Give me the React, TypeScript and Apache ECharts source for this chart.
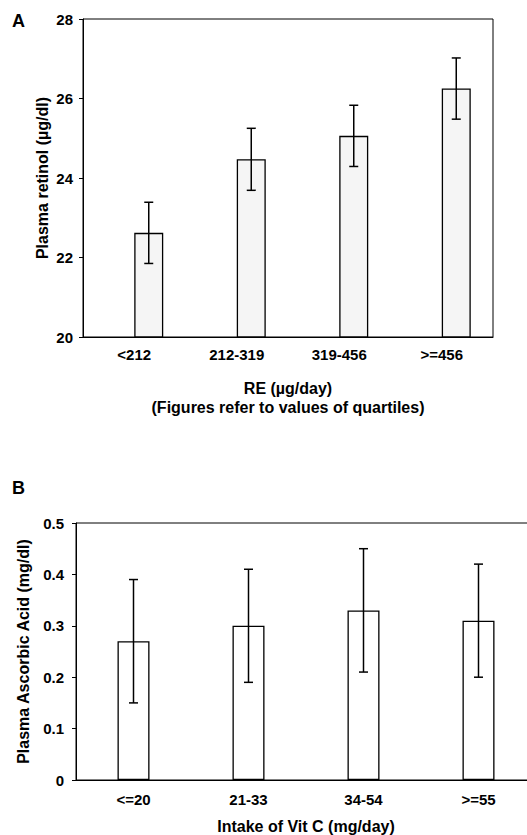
import React, { useEffect, useRef } from "react";
import * as echarts from "echarts";

const catsA = ["<212", "212-319", "319-456", ">=456"];
const meansA = [22.62, 24.47, 25.06, 26.25];
const errA = [0.77, 0.78, 0.77, 0.77];

const catsB = ["<=20", "21-33", "34-54", ">=55"];
const meansB = [0.27, 0.3, 0.33, 0.31];
const errB = [0.12, 0.11, 0.12, 0.11];

const FONT = "Liberation Sans";
const BAR_W_A = 29;
const BAR_W_B = 32;

function errRenderer(offset: number) {
  return (params: any, api: any) => {
    const i = api.value(0);
    const lo = api.coord([i, api.value(1)]);
    const hi = api.coord([i, api.value(2)]);
    const x = lo[0] + offset;
    const cap = 4.5;
    const style = { stroke: "#000", lineWidth: 1.5 };
    return {
      type: "group",
      children: [
        { type: "line", shape: { x1: x, y1: hi[1], x2: x, y2: lo[1] }, style },
        { type: "line", shape: { x1: x - cap, y1: hi[1], x2: x + cap, y2: hi[1] }, style },
        { type: "line", shape: { x1: x - cap, y1: lo[1], x2: x + cap, y2: lo[1] }, style },
      ],
    };
  };
}

const tickText = { color: "#000", fontFamily: FONT, fontWeight: "bold" as const, fontSize: 15 };
const nameText = { color: "#000", fontFamily: FONT, fontWeight: "bold" as const, fontSize: 16 };

export default function App() {
  const ref = useRef<HTMLDivElement>(null);
  useEffect(() => {
    if (!ref.current) return;
    const chart = echarts.init(ref.current, undefined, { renderer: "svg" });
    const lineStyle = { color: "#000", width: 1 };
    chart.setOption({
      animation: false,
      backgroundColor: "#fff",
      graphic: [
        { type: "text", left: 12, top: 12, style: { text: "A", fill: "#000", font: `bold 18px "${FONT}"` } },
        { type: "text", left: 12, top: 479, style: { text: "B", fill: "#000", font: `bold 18px "${FONT}"` } },
      ],
      grid: [
        {
          left: 83, top: 19, width: 410, height: 318,
          outerBoundsMode: "none",
          show: true, borderColor: "#000", borderWidth: 1, backgroundColor: "transparent",
        },
        {
          left: 76, top: 523, width: 460, height: 257,
          outerBoundsMode: "none",
          show: true, borderColor: "#000", borderWidth: 1, backgroundColor: "transparent",
        },
      ],
      xAxis: [
        {
          type: "category",
          gridIndex: 0,
          data: catsA,
          axisLine: { lineStyle },
          axisTick: { length: 5, lineStyle },
          axisLabel: { ...tickText, margin: 10 },
          name: "RE (µg/day)\n(Figures refer to values of quartiles)",
          nameLocation: "middle",
          nameGap: 42,
          nameMoveOverlap: false,
          nameTextStyle: { ...nameText, lineHeight: 19 },
        },
        {
          type: "category",
          gridIndex: 1,
          data: catsB,
          axisLine: { lineStyle },
          axisTick: { length: 5, lineStyle },
          axisLabel: { ...tickText, margin: 12 },
          name: "Intake of Vit C (mg/day)",
          nameLocation: "middle",
          nameGap: 38,
          nameMoveOverlap: false,
          nameTextStyle: { ...nameText },
        },
      ],
      yAxis: [
        {
          type: "value",
          gridIndex: 0,
          min: 20,
          max: 28,
          interval: 2,
          splitLine: { show: false },
          axisLine: { show: true, lineStyle },
          axisTick: { show: true, length: 4, lineStyle },
          axisLabel: { ...tickText, margin: 10 },
          name: "Plasma retinol (µg/dl)",
          nameLocation: "middle",
          nameGap: 33,
          nameMoveOverlap: false,
          nameTextStyle: { ...nameText },
        },
        {
          type: "value",
          gridIndex: 1,
          min: 0,
          max: 0.5,
          interval: 0.1,
          splitLine: { show: false },
          axisLine: { show: true, lineStyle },
          axisTick: { show: true, length: 4, lineStyle },
          axisLabel: {
            ...tickText,
            margin: 12,
            formatter: (v: number) => (v === 0 ? "0" : v.toFixed(1)),
          },
          name: "Plasma Ascorbic Acid (mg/dl)",
          nameLocation: "middle",
          nameGap: 45,
          nameMoveOverlap: false,
          nameTextStyle: { ...nameText },
        },
      ],
      series: [
        {
          type: "bar",
          xAxisIndex: 0,
          yAxisIndex: 0,
          data: catsA.map(() => "-"),
          barWidth: BAR_W_A,
          barGap: "0%",
          silent: true,
        },
        {
          type: "bar",
          xAxisIndex: 0,
          yAxisIndex: 0,
          data: meansA,
          barWidth: BAR_W_A,
          barGap: "0%",
          itemStyle: {
            color: "#f5f5f5",
            borderColor: "#000",
            borderWidth: 1.3,
          },
        },
        {
          type: "custom",
          xAxisIndex: 0,
          yAxisIndex: 0,
          z: 5,
          renderItem: errRenderer(BAR_W_A / 2),
          data: meansA.map((m, i) => [i, m - errA[i], m + errA[i]]),
        },
        {
          type: "bar",
          xAxisIndex: 1,
          yAxisIndex: 1,
          data: meansB,
          barWidth: BAR_W_B,
          itemStyle: { color: "#fff", borderColor: "#000", borderWidth: 1.3 },
        },
        {
          type: "custom",
          xAxisIndex: 1,
          yAxisIndex: 1,
          z: 5,
          renderItem: errRenderer(0),
          data: meansB.map((m, i) => [i, m - errB[i], m + errB[i]]),
        },
      ],
    });
    return () => chart.dispose();
  }, []);
  return (
    <div
      ref={ref}
      style={{ position: "absolute", left: 0, top: 0, width: 527, height: 835, overflow: "hidden" }}
    />
  );
}
